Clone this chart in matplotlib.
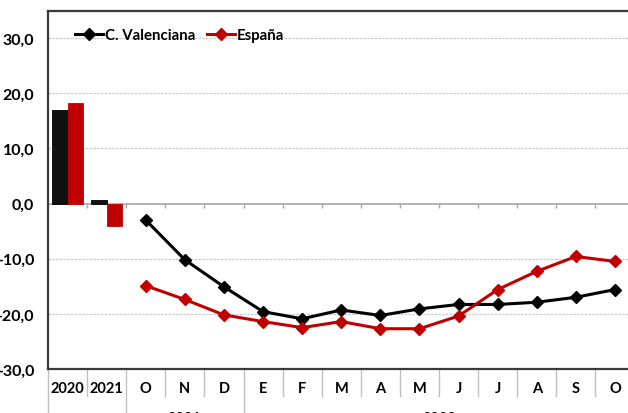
import matplotlib
matplotlib.use("Agg")
import matplotlib.pyplot as plt

# data
bar_labels = ["2020", "2021"]
bar_valenciana = [17.0, 0.7]
bar_espana = [18.2, -4.1]

month_labels = ["O", "N", "D", "E", "F", "M", "A", "M", "J", "J", "A", "S", "O"]
line_valenciana = [-3.0, -10.2, -15.1, -19.6, -20.9, -19.3, -20.3, -19.1, -18.3, -18.3, -17.9, -17.0, -15.6]
line_espana = [-14.9, -17.4, -20.2, -21.4, -22.5, -21.4, -22.7, -22.7, -20.4, -15.6, -12.3, -9.6, -10.5]

year_groups = [("2021", 2, 4), ("2022", 5, 14)]  # label, first idx, last idx
y_ticks = [-30, -20, -10, 0, 10, 20, 30]

BLACK = "#000000"
RED = "#C00000"
plt.rcParams["font.family"] = ["Lato", "DejaVu Sans"]
plt.rcParams["font.weight"] = "bold"

fig = plt.figure(figsize=(6.28, 4.14), dpi=100)
ax = fig.add_axes([48 / 628, 1 - 370 / 414, 586.5 / 628, 358 / 414])

n_cat = len(bar_labels) + len(month_labels)
ax.set_xlim(-0.5, n_cat - 0.5)
ax.set_ylim(-30, 34.9)

# gridlines
for v in y_ticks:
    if v in (-30, 0):
        continue
    ax.axhline(v, color="#c8c8c8", lw=0.9, ls=(0, (2, 1)), zorder=0)
ax.axhline(0, color="#a6a6a6", lw=1.2, zorder=1)
# small ticks on zero line at category boundaries
bounds = [i + 0.5 for i in range(n_cat - 1)]
ax.vlines(bounds, -0.75, 0, color="#a6a6a6", lw=1.0, zorder=1)

# bars
bw = 0.39
bx = list(range(len(bar_labels)))
ax.bar([x - bw / 2 for x in bx], bar_valenciana, width=bw, color="#111111",
       edgecolor="#000000", lw=0.6, zorder=2)
ax.bar([x + bw / 2 for x in bx], bar_espana, width=bw, color=RED,
       edgecolor=RED, lw=0.6, zorder=2)

# lines
mx = [len(bar_labels) + i for i in range(len(month_labels))]
ax.plot(mx, line_valenciana, color=BLACK, lw=2.2, marker="D", ms=6,
        label="C. Valenciana", zorder=3)
ax.plot(mx, line_espana, color=RED, lw=2.2, marker="D", ms=6,
        label="España", zorder=3)

# axes styling
ax.set_yticks(y_ticks)
ax.set_yticklabels([f"{v:.1f}".replace(".", ",") for v in y_ticks],
                   fontsize=11.5, fontweight="bold")
ax.tick_params(axis="y", length=0, pad=10)
ax.set_xticks(range(n_cat))
ax.set_xticklabels(bar_labels + month_labels, fontsize=10.5, fontweight="bold")
ax.tick_params(axis="x", length=0, pad=9)

for side in ("top", "left", "bottom"):
    ax.spines[side].set_color("#3a3a3a")
    ax.spines[side].set_linewidth(1.6)
ax.spines["right"].set_visible(False)

# separators below the axis
trans = ax.get_xaxis_transform()
long_bounds = [year_groups[0][1] - 0.5, year_groups[1][1] - 0.5]
ax.plot([-0.5, -0.5], [0, -0.2], transform=trans, color="#bfbfbf", lw=1.0,
        clip_on=False)
for b in bounds:
    low = -0.2 if b in long_bounds else -0.076
    ax.plot([b, b], [0, low], transform=trans, color="#bfbfbf", lw=1.0,
            clip_on=False)

for name, i0, i1 in year_groups:
    ax.text((i0 + i1) / 2, -0.136, name, transform=trans, ha="center",
            va="center", fontsize=10.5, fontweight="bold")

leg = ax.legend(loc="upper left", bbox_to_anchor=(0.035, 0.968), ncol=2,
                frameon=False, fontsize=10.8, handlelength=1.9,
                handletextpad=0.1, columnspacing=0.8, borderaxespad=0)
for t in leg.get_texts():
    t.set_fontweight("bold")

fig.savefig("out.png", dpi=100)
